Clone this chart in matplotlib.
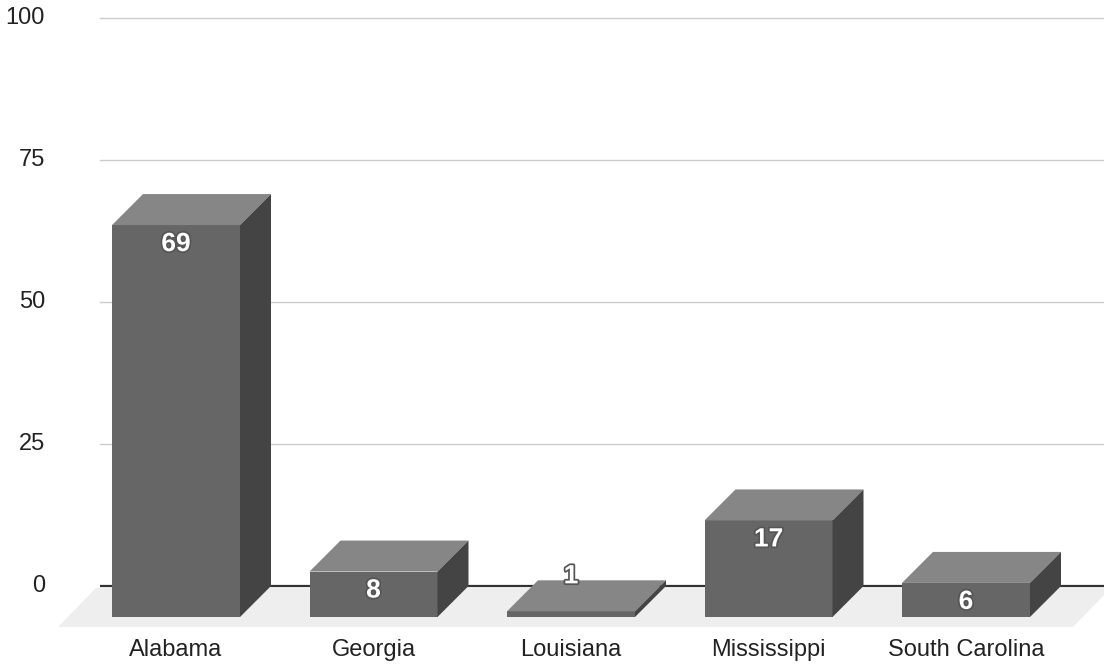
import matplotlib
matplotlib.use("Agg")
import matplotlib.pyplot as plt
import matplotlib.patheffects as pe
from matplotlib.patches import Polygon
import numpy as np

states = ["Alabama", "Georgia", "Louisiana", "Mississippi", "South Carolina"]
counts = [69, 8, 1, 17, 6]
yticks = [0, 25, 50, 75, 100]

plt.rcParams['font.family'] = ['Liberation Sans', 'DejaVu Sans']

fig = plt.figure(figsize=(11.04, 6.66), dpi=100)
ax = fig.add_axes([0, 0, 1, 1])
ax.axis("off")

# map pixels -> data: one unit per category slot, value units on y
px_x = 197.5          # px per category
px_y = 5.68           # px per value unit
x0 = 176              # px of first front-face centre
y0 = 586              # px (from top) of the value 0 on the back plane
ax.set_xlim((0 - x0) / px_x, (1104 - x0) / px_x)
ax.set_ylim((y0 - 666) / px_y, y0 / px_y)

w = 128 / px_x        # front width
dx = 31 / px_x        # depth offset
dy = 31 / px_y

front_c = "#666666"
top_c = "#868686"
side_c = "#444444"

# floor
fx = lambda p: (p - x0) / px_x
fy = lambda p: (y0 - p) / px_y
floor = Polygon([(fx(58), fy(627)), (fx(1073), fy(627)), (fx(1111), fy(588)), (fx(96), fy(588))],
                closed=True, facecolor="#eeeeee", edgecolor="none", zorder=1)
ax.add_patch(floor)

# gridlines on the back plane
gx0, gx1 = fx(100), fx(1104)
for t in yticks:
    if t == 0:
        ax.plot([gx0, gx1], [0, 0], color="#333333", lw=1.6, zorder=2, solid_capstyle="butt")
    else:
        ax.plot([gx0, gx1], [t, t], color="#cccccc", lw=1.0, zorder=2)
    ax.text(fx(45), t, str(t), ha="right", va="center", fontsize=17, color="#222222")

for i, (name, v) in enumerate(zip(states, counts)):
    l, r = i - w / 2, i + w / 2
    b, t = -dy, v - dy
    ax.add_patch(Polygon([(l, b), (r, b), (r, t), (l, t)], facecolor=front_c, edgecolor="none", zorder=3))
    ax.add_patch(Polygon([(l, t), (r, t), (r + dx, v), (l + dx, v)], facecolor=top_c, edgecolor="none", zorder=3))
    ax.add_patch(Polygon([(r, b), (r + dx, 0), (r + dx, v), (r, t)], facecolor=side_c, edgecolor="none", zorder=3))
    # value label inside front face, or just above a very short bar
    if v * px_y < 22:
        ly = t + 35 / px_y
    else:
        ly = t - 19 / px_y
    ax.text(i, ly, str(v), ha="center", va="center", fontsize=19, fontweight="bold",
            color="white", zorder=5,
            path_effects=[pe.withStroke(linewidth=2.5, foreground="#555555")])
    ax.text(i, fy(650), name, ha="center", va="center", fontsize=17, color="#222222")

fig.savefig("out.png", dpi=100)
